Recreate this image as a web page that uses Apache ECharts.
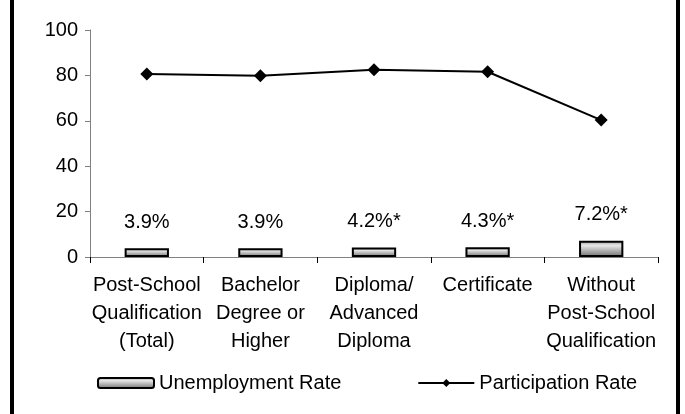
<!DOCTYPE html>
<html>
<head>
<meta charset="utf-8">
<script src="https://cdn.jsdelivr.net/npm/echarts@6/dist/echarts.min.js"></script>
<style>
  html, body { margin: 0; padding: 0; background: #fff; }
  #chart { width: 685px; height: 414px; }
</style>
</head>
<body>
<div id="chart"></div>
<script>
var categories = ['Post-School\nQualification\n(Total)', 'Bachelor\nDegree or\nHigher',
    'Diploma/\nAdvanced\nDiploma', 'Certificate', 'Without\nPost-School\nQualification'];
var unemployment = [3.9, 3.9, 4.2, 4.3, 7.2];
var unemploymentLabels = ['3.9%', '3.9%', '4.2%*', '4.3%*', '7.2%*'];
var participation = [80.6, 79.9, 82.5, 81.6, 60.3];
var yTicks = [0, 20, 40, 60, 80, 100];

var font = 'Liberation Sans, Arial, sans-serif';
var chart = echarts.init(document.getElementById('chart'));

var barFill = new echarts.graphic.LinearGradient(0, 0, 0, 1, [
    { offset: 0, color: '#9a9a9a' },
    { offset: 0.3, color: '#e6e6e6' },
    { offset: 1, color: '#6e6e6e' }
]);

var option = {
    animation: false,
    grid: { left: 90, right: 27, top: 30, bottom: 157 },
    legend: {
        bottom: 16,
        left: 92,
        itemGap: 76,
        itemWidth: 56,
        itemHeight: 10,
        textStyle: { fontFamily: font, fontSize: 20, color: '#000' },
        data: ['Unemployment Rate', 'Participation Rate']
    },
    xAxis: {
        type: 'category',
        data: categories,
        axisLine: { lineStyle: { color: '#808080' } },
        axisTick: { show: true, length: 6, lineStyle: { color: '#000' } },
        axisLabel: {
            fontFamily: font, fontSize: 20, color: '#000',
            lineHeight: 28, interval: 0, margin: 14
        }
    },
    yAxis: {
        type: 'value',
        min: yTicks[0],
        max: yTicks[yTicks.length - 1],
        interval: 20,
        splitLine: { show: false },
        axisLine: { show: true, lineStyle: { color: '#808080' } },
        axisTick: { show: true, length: 5, lineStyle: { color: '#808080' } },
        axisLabel: { fontFamily: font, fontSize: 20, color: '#000', margin: 12 }
    },
    series: [{
        name: 'Unemployment Rate',
        type: 'bar',
        barWidth: '39%',
        data: unemployment,
        itemStyle: { color: barFill, borderColor: '#000', borderWidth: 2 },
        label: {
            show: true,
            position: 'top',
            distance: 16,
            fontFamily: font, fontSize: 20, color: '#000',
            formatter: function (p) { return unemploymentLabels[p.dataIndex]; }
        }
    }, {
        name: 'Participation Rate',
        type: 'line',
        data: participation,
        symbol: 'diamond',
        symbolSize: 13,
        lineStyle: { color: '#000', width: 2 },
        itemStyle: { color: '#000' }
    }],
    graphic: [
        { type: 'rect', shape: { x: 10, y: 0, width: 4, height: 414 }, style: { fill: '#000' } },
        { type: 'rect', shape: { x: 676, y: 0, width: 4, height: 414 }, style: { fill: '#000' } }
    ]
};

chart.setOption(option);
</script>
</body>
</html>
